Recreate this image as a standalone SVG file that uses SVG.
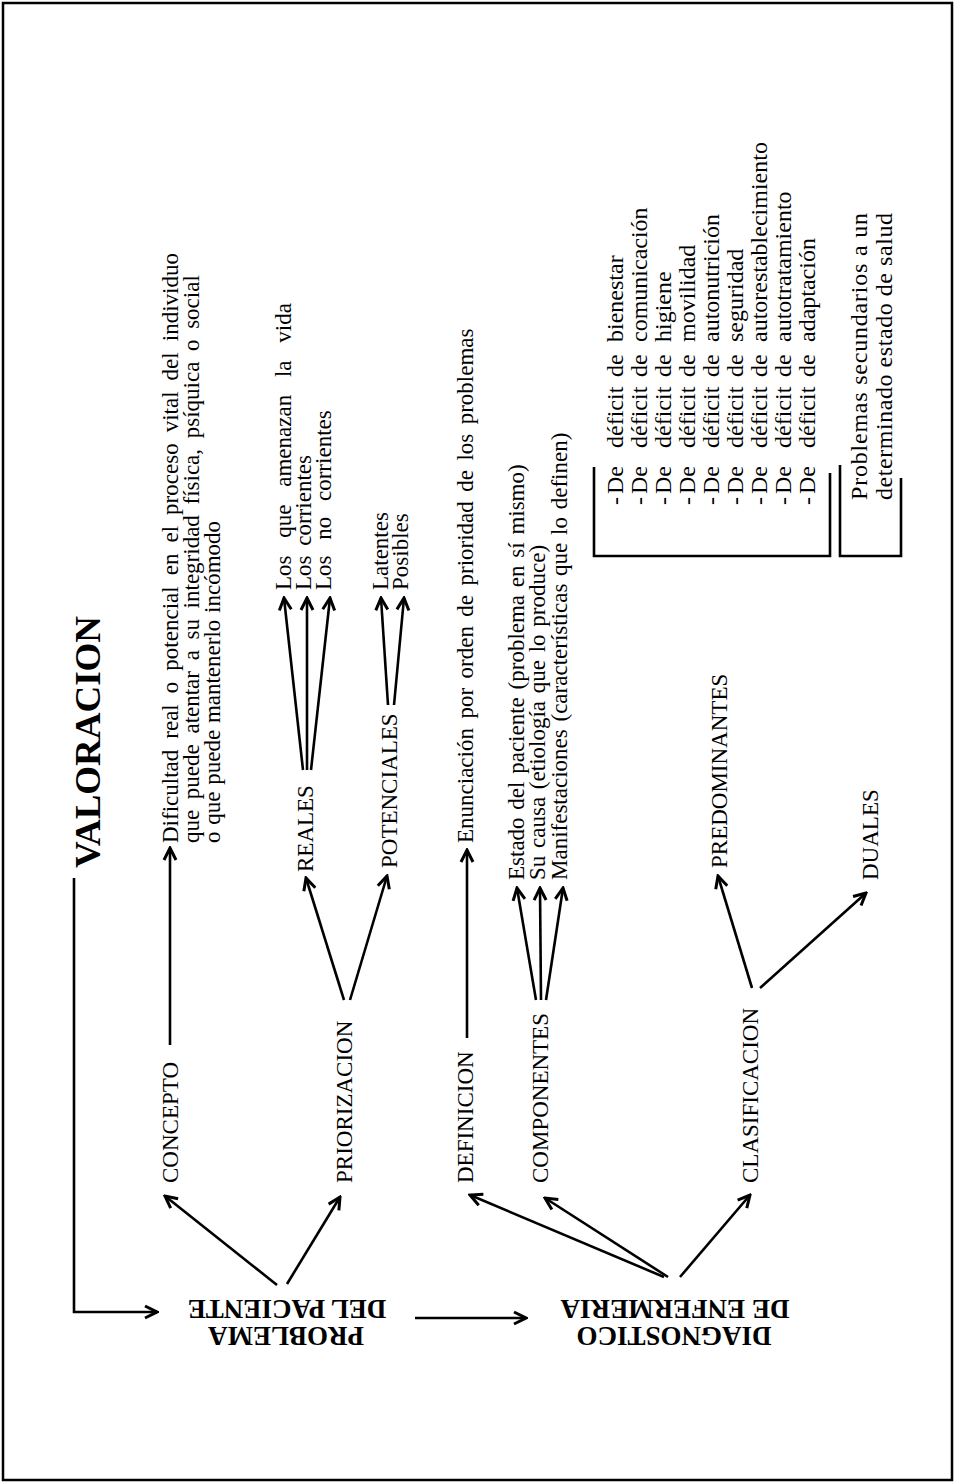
<svg xmlns="http://www.w3.org/2000/svg" width="955" height="1484" viewBox="0 0 955 1484">
<defs>
<marker id="ah" markerUnits="userSpaceOnUse" viewBox="-14 -8 16 16" refX="0" refY="0" markerWidth="16" markerHeight="16" orient="auto">
<path d="M-12,-6 L0,0 L-12,6" fill="none" stroke="#000" stroke-width="3" stroke-linejoin="miter"/>
</marker>
<style>
text{font-family:"Liberation Serif","Times New Roman",serif;fill:#000}
.lb{font-size:23px}
.bd{font-size:23px}
.li{font-size:24px}
.h{font-size:27px;font-weight:bold}
.t{font-size:36px;font-weight:bold}
.c line,.c path{stroke:#000;stroke-width:2.6;fill:none}
.a{marker-end:url(#ah)}
</style>
</defs>
<rect x="3" y="3" width="949" height="1477" fill="#fff" stroke="#000" stroke-width="2.5"/>
<g id="connectors" class="c">
<path d="M74,878 V1312 H157" class="a"/>
<line x1="415" y1="1318" x2="526" y2="1318" class="a"/>
<line x1="277" y1="1285" x2="165" y2="1196" class="a"/>
<line x1="287" y1="1284" x2="340" y2="1197" class="a"/>
<line x1="170" y1="1045" x2="170" y2="848" class="a"/>
<line x1="344" y1="1000" x2="306" y2="878" class="a"/>
<line x1="350" y1="1000" x2="387" y2="876" class="a"/>
<line x1="303" y1="770" x2="284" y2="598" class="a"/>
<line x1="307" y1="770" x2="307" y2="598" class="a"/>
<line x1="311" y1="770" x2="330" y2="598" class="a"/>
<line x1="388" y1="705" x2="381" y2="598" class="a"/>
<line x1="394" y1="705" x2="404" y2="598" class="a"/>
<line x1="664" y1="1277" x2="470" y2="1195" class="a"/>
<line x1="668" y1="1277" x2="545" y2="1198" class="a"/>
<line x1="680" y1="1277" x2="750" y2="1195" class="a"/>
<line x1="467" y1="1038" x2="467" y2="850" class="a"/>
<line x1="536" y1="1000" x2="517" y2="888" class="a"/>
<line x1="541" y1="1000" x2="540" y2="888" class="a"/>
<line x1="546" y1="1000" x2="563" y2="888" class="a"/>
<line x1="752" y1="988" x2="718" y2="876" class="a"/>
<line x1="760" y1="988" x2="866" y2="893" class="a"/>
<path d="M594,467 V556 H830 V473"/>
<path d="M840,465 V556 H901 V478"/>
</g>
<g id="valoracion"><text class="t" transform="translate(100,868) rotate(-90)" textLength="252" lengthAdjust="spacingAndGlyphs">VALORACION</text></g>
<g id="problema">
<text class="h" text-anchor="middle" transform="translate(287,1300) rotate(180)">DEL PACIENTE</text>
<text class="h" text-anchor="middle" transform="translate(286,1327) rotate(180)">PROBLEMA</text>
</g>
<g id="diagnostico">
<text class="h" text-anchor="middle" transform="translate(675,1300) rotate(180)">DE ENFERMERIA</text>
<text class="h" text-anchor="middle" transform="translate(674,1327) rotate(180)">DIAGNOSTICO</text>
</g>
<g id="concepto"><text class="lb" transform="translate(178,1183) rotate(-90)">CONCEPTO</text></g>
<g id="concepto-def">
<text class="bd" transform="translate(178,843) rotate(-90)" word-spacing="5.3">Dificultad real o potencial en el proceso vital del individuo</text>
<text class="bd" transform="translate(199,843) rotate(-90)" word-spacing="4.9">que puede atentar a su integridad física, psíquica o social</text>
<text class="bd" transform="translate(220,843) rotate(-90)" word-spacing="1">o que puede mantenerlo incómodo</text>
</g>
<g id="priorizacion"><text class="lb" transform="translate(352,1183) rotate(-90)">PRIORIZACION</text></g>
<g id="reales"><text class="lb" transform="translate(313,872) rotate(-90)">REALES</text></g>
<g id="reales-items">
<text class="bd" transform="translate(291,590) rotate(-90)" word-spacing="12">Los que amenazan la vida</text>
<text class="bd" transform="translate(311,590) rotate(-90)" word-spacing="4">Los corrientes</text>
<text class="bd" transform="translate(331,590) rotate(-90)" word-spacing="10">Los no corrientes</text>
</g>
<g id="potenciales"><text class="lb" transform="translate(397,868) rotate(-90)">POTENCIALES</text></g>
<g id="potenciales-items">
<text class="bd" transform="translate(388,590) rotate(-90)">Latentes</text>
<text class="bd" transform="translate(408,590) rotate(-90)">Posibles</text>
</g>
<g id="definicion"><text class="lb" transform="translate(473,1183) rotate(-90)">DEFINICION</text></g>
<g id="definicion-def"><text class="bd" transform="translate(473,843) rotate(-90)" word-spacing="3.7">Enunciación por orden de prioridad de los problemas</text></g>
<g id="componentes"><text class="lb" transform="translate(548,1183) rotate(-90)">COMPONENTES</text></g>
<g id="componentes-items">
<text class="bd" transform="translate(524,880) rotate(-90)" word-spacing="2">Estado del paciente (problema en sí mismo)</text>
<text class="bd" transform="translate(545,880) rotate(-90)" word-spacing="2">Su causa (etiología que lo produce)</text>
<text class="bd" transform="translate(567,880) rotate(-90)" word-spacing="2">Manifestaciones (características que lo definen)</text>
</g>
<g id="clasificacion"><text class="lb" transform="translate(758,1183) rotate(-90)">CLASIFICACION</text></g>
<g id="predominantes"><text class="lb" transform="translate(727,868) rotate(-90)">PREDOMINANTES</text></g>
<g id="duales"><text class="lb" transform="translate(878,880) rotate(-90)">DUALES</text></g>
<g id="lista-predominantes">
<text class="li" transform="translate(623,505) rotate(-90)"><tspan x="0">-</tspan><tspan x="11">De</tspan><tspan x="57">déficit</tspan><tspan x="128">de</tspan><tspan x="163">bienestar</tspan></text>
<text class="li" transform="translate(647,505) rotate(-90)"><tspan x="0">-</tspan><tspan x="11">De</tspan><tspan x="57">déficit</tspan><tspan x="128">de</tspan><tspan x="163">comunicación</tspan></text>
<text class="li" transform="translate(671,505) rotate(-90)"><tspan x="0">-</tspan><tspan x="11">De</tspan><tspan x="57">déficit</tspan><tspan x="128">de</tspan><tspan x="163">higiene</tspan></text>
<text class="li" transform="translate(695,505) rotate(-90)"><tspan x="0">-</tspan><tspan x="11">De</tspan><tspan x="57">déficit</tspan><tspan x="128">de</tspan><tspan x="163">movilidad</tspan></text>
<text class="li" transform="translate(719,505) rotate(-90)"><tspan x="0">-</tspan><tspan x="11">De</tspan><tspan x="57">déficit</tspan><tspan x="128">de</tspan><tspan x="163">autonutrición</tspan></text>
<text class="li" transform="translate(743,505) rotate(-90)"><tspan x="0">-</tspan><tspan x="11">De</tspan><tspan x="57">déficit</tspan><tspan x="128">de</tspan><tspan x="163">seguridad</tspan></text>
<text class="li" transform="translate(767,505) rotate(-90)"><tspan x="0">-</tspan><tspan x="11">De</tspan><tspan x="57">déficit</tspan><tspan x="128">de</tspan><tspan x="163">autorestablecimiento</tspan></text>
<text class="li" transform="translate(791,505) rotate(-90)"><tspan x="0">-</tspan><tspan x="11">De</tspan><tspan x="57">déficit</tspan><tspan x="128">de</tspan><tspan x="163">autotratamiento</tspan></text>
<text class="li" transform="translate(815,505) rotate(-90)"><tspan x="0">-</tspan><tspan x="11">De</tspan><tspan x="57">déficit</tspan><tspan x="128">de</tspan><tspan x="163">adaptación</tspan></text>
</g>
<g id="duales-def">
<text class="li" transform="translate(867,500) rotate(-90)" textLength="287" lengthAdjust="spacing">Problemas secundarios a un</text>
<text class="li" transform="translate(892,500) rotate(-90)" textLength="287" lengthAdjust="spacing">determinado estado de salud</text>
</g>
</svg>
